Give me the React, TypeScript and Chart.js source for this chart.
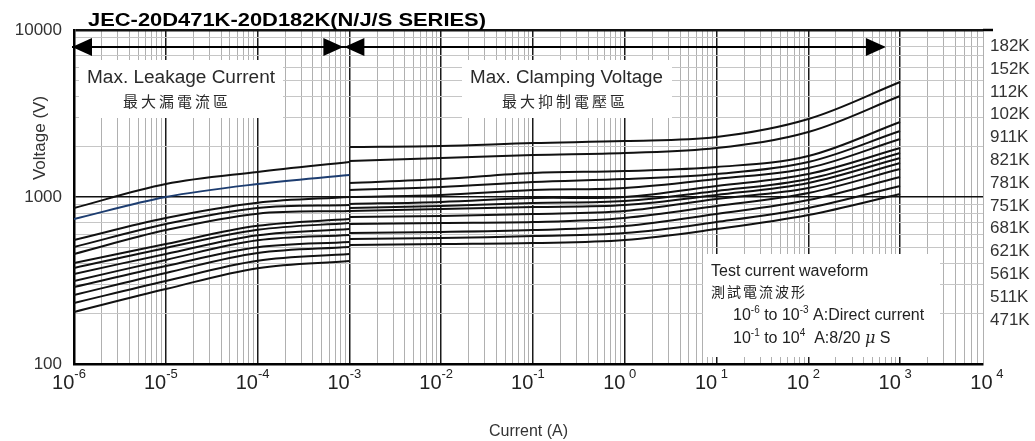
import React, { useEffect, useRef } from 'react';
import { Chart, registerables } from 'chart.js';

Chart.register(...registerables);

// ---------- text ----------
const chartTitle = 'JEC-20D471K-20D182K(N/J/S SERIES)';
const xAxisTitle = 'Current (A)';
const yAxisTitle = 'Voltage (V)';
const leakageTitle = 'Max. Leakage Current';
const leakageTitleZh = '最大漏電流區';
const clampingTitle = 'Max. Clamping Voltage';
const clampingTitleZh = '最大抑制電壓區';
const waveTitle = 'Test current waveform';
const waveTitleZh = '測試電流波形';

// ---------- axes ----------
const modelLabels = ['182K', '152K', '112K', '102K', '911K', '821K', '781K', '751K', '681K', '621K', '561K', '511K', '471K'];
const xDecadeExponents = [-6, -5, -4, -3, -2, -1, 0, 1, 2, 3, 4];
const yTickLabels = [100, 1000, 10000];
const xMin = 1e-6;
const xMax = 8000;
const yMin = 100;
const yMax = 10000;

// ---------- data: current (A) ----------
const leakageCurrent = [1e-6, 1e-5, 1e-4, 1e-3];
const clampingCurrent = [1e-3, 1e-2, 1e-1, 1, 10, 100, 1000];

// ---------- leakage region voltages (V) ----------
const leakage182K = [859, 1196, 1412, 1620];
const leakage152K = [738, 1000, 1196, 1354];
const leakage112K = [553, 749, 925, 1000];
const leakage102K = [502, 689, 860, 896];
const leakage911K = [456, 634, 795, 825];
const leakage821K = [403, 523, 672, 738];
const leakage781K = [376, 495, 636, 699];
const leakage751K = [346, 456, 590, 643];
const leakage681K = [314, 420, 550, 592];
const leakage621K = [289, 386, 500, 538];
const leakage561K = [259, 351, 462, 502];
const leakage511K = [232, 314, 415, 456];
const leakage471K = [205, 281, 375, 414];

// ---------- clamping region voltages (V) ----------
const clamping182K = [1993, 2020, 2106, 2164, 2287, 2931, 4882];
const clamping152K = [1643, 1712, 1785, 1835, 1965, 2450, 4025];
const clamping112K = [1213, 1282, 1392, 1431, 1512, 1760, 2813];
const clamping102K = [1101, 1148, 1230, 1282, 1373, 1620, 2484];
const clamping911K = [1000, 1028, 1101, 1132, 1282, 1492, 2225];
const clamping821K = [908, 934, 986, 1000, 1164, 1373, 1965];
const clamping781K = [859, 883, 921, 946, 1086, 1282, 1835];
const clamping751K = [825, 848, 871, 896, 1028, 1213, 1712];
const clamping681K = [759, 770, 791, 825, 973, 1132, 1598];
const clamping621K = [689, 699, 708, 749, 883, 1057, 1471];
const clamping561K = [608, 617, 634, 670, 791, 959, 1318];
const clamping511K = [560, 568, 584, 608, 708, 859, 1164];
const clamping471K = [516, 523, 530, 553, 643, 780, 1042];

const leakageSeries = [leakage182K, leakage152K, leakage112K, leakage102K, leakage911K, leakage821K, leakage781K, leakage751K, leakage681K, leakage621K, leakage561K, leakage511K, leakage471K];
const clampingSeries = [clamping182K, clamping152K, clamping112K, clamping102K, clamping911K, clamping821K, clamping781K, clamping751K, clamping681K, clamping621K, clamping561K, clamping511K, clamping471K];

const SANS = '"Liberation Sans", Arial, Helvetica, sans-serif';
const CJK = '"Noto Sans CJK TC", "Noto Sans CJK SC", sans-serif';

function isDecade(v: number) {
  const l = Math.log10(v);
  return Math.abs(l - Math.round(l)) < 1e-9;
}

function drawRuns(ctx: CanvasRenderingContext2D, runs: [string, string, number][], x: number, y: number) {
  let cx = x;
  for (const [text, font, dy] of runs) {
    ctx.font = font;
    ctx.fillText(text, cx, y + dy);
    cx += ctx.measureText(text).width;
  }
}

function drawArrowHead(ctx: CanvasRenderingContext2D, tipX: number, y: number, dir: number) {
  const len = 20;
  const half = 9;
  ctx.beginPath();
  ctx.moveTo(tipX, y);
  ctx.lineTo(tipX - dir * len, y - half);
  ctx.lineTo(tipX - dir * len, y + half);
  ctx.closePath();
  ctx.fill();
}

const overlayPlugin = {
  id: 'overlay',
  beforeDatasetsDraw(chart: any) {
    const ctx: CanvasRenderingContext2D = chart.ctx;
    const a = chart.chartArea;
    ctx.save();
    ctx.fillStyle = '#ffffff';
    ctx.fillRect(a.left + 5, a.top + 30, 204, 58);
    ctx.fillRect(a.left + 388, a.top + 30, 210, 58);
    ctx.fillRect(a.left + 629, a.top + 224, 237, 103);
    ctx.restore();
  },
  afterDraw(chart: any) {
    const ctx: CanvasRenderingContext2D = chart.ctx;
    const a = chart.chartArea;
    const xs = chart.scales.x;
    ctx.save();
    ctx.textBaseline = 'alphabetic';
    ctx.textAlign = 'left';

    // title (slightly stretched like the reference)
    ctx.fillStyle = '#000';
    ctx.font = `bold 19px ${SANS}`;
    const tw = ctx.measureText(chartTitle).width;
    ctx.save();
    ctx.translate(a.left + 14, a.top - 4);
    ctx.scale(398 / tw, 1);
    ctx.fillText(chartTitle, 0, 0);
    ctx.restore();

    // top frame line extends slightly past the plot
    ctx.strokeStyle = '#000';
    ctx.lineWidth = 2.5;
    ctx.beginPath();
    ctx.moveTo(a.right, a.top);
    ctx.lineTo(a.right + 10, a.top);
    ctx.stroke();

    // arrows
    const ay = a.top + 17;
    const x0 = xs.getPixelForValue(1e-6) - 2;
    const x1 = xs.getPixelForValue(1e-3) - 6;
    const x2 = xs.getPixelForValue(1e-3) - 5;
    const x3 = xs.getPixelForValue(700);
    ctx.fillStyle = '#000';
    ctx.lineWidth = 2;
    ctx.beginPath();
    ctx.moveTo(x0, ay);
    ctx.lineTo(x3 - 4, ay);
    ctx.stroke();
    drawArrowHead(ctx, x0, ay, -1);
    drawArrowHead(ctx, x1, ay, 1);
    drawArrowHead(ctx, x2, ay, -1);
    drawArrowHead(ctx, x3, ay, 1);

    // region labels
    ctx.fillStyle = '#2a2a2a';
    ctx.font = `18px ${SANS}`;
    let w = ctx.measureText(leakageTitle).width;
    ctx.save();
    ctx.translate(a.left + 13, a.top + 53);
    ctx.scale(188 / w, 1);
    ctx.fillText(leakageTitle, 0, 0);
    ctx.restore();
    w = ctx.measureText(clampingTitle).width;
    ctx.save();
    ctx.translate(a.left + 396, a.top + 53);
    ctx.scale(193 / w, 1);
    ctx.fillText(clampingTitle, 0, 0);
    ctx.restore();

    ctx.font = `15px ${CJK}`;
    (ctx as any).letterSpacing = '3px';
    ctx.textBaseline = 'middle';
    ctx.fillText(leakageTitleZh, a.left + 49, a.top + 71);
    ctx.fillText(clampingTitleZh, a.left + 428, a.top + 71);

    // test waveform box
    (ctx as any).letterSpacing = '0px';
    ctx.textBaseline = 'alphabetic';
    ctx.fillStyle = '#222';
    ctx.font = `16px ${SANS}`;
    ctx.fillText(waveTitle, a.left + 637, a.top + 246);
    ctx.font = `14px ${CJK}`;
    (ctx as any).letterSpacing = '2px';
    ctx.textBaseline = 'middle';
    ctx.fillText(waveTitleZh, a.left + 637, a.top + 262);
    (ctx as any).letterSpacing = '0px';
    ctx.textBaseline = 'alphabetic';
    const big = `16px ${SANS}`;
    const sup = `10px ${SANS}`;
    drawRuns(ctx, [['10', big, 0], ['-6', sup, -7], [' to 10', big, 0], ['-3', sup, -7], [' A:Direct current', big, 0]], a.left + 659, a.top + 290);
    drawRuns(ctx, [['10', big, 0], ['-1', sup, -7], [' to 10', big, 0], ['4', sup, -7], ['  A:8/20 ', big, 0], ['\u03bc', `italic 16px "DejaVu Serif", serif`, 0], [' S', big, 0]], a.left + 659, a.top + 313);

    // y axis title
    ctx.save();
    ctx.fillStyle = '#333';
    ctx.font = `17px ${SANS}`;
    ctx.textAlign = 'center';
    ctx.textBaseline = 'middle';
    ctx.translate(40, a.top + 108);
    ctx.rotate(-Math.PI / 2);
    ctx.fillText(yAxisTitle, 0, 0);
    ctx.restore();

    // x decade labels with superscript exponents
    ctx.fillStyle = '#222';
    for (const e of xDecadeExponents) {
      const px = xs.getPixelForValue(Math.pow(10, e));
      const base = '10';
      const ex = (e >= 0 ? ' ' : '') + String(e);
      ctx.font = `20px ${SANS}`;
      const wb = ctx.measureText(base).width;
      ctx.font = `13px ${SANS}`;
      const we = ctx.measureText(ex).width;
      const start = px - (wb + we) / 2 - 5;
      ctx.font = `20px ${SANS}`;
      ctx.fillText(base, start, a.bottom + 25);
      ctx.font = `13px ${SANS}`;
      ctx.fillText(ex, start + wb, a.bottom + 14);
    }
    ctx.restore();
  },
};

export default function App() {
  const ref = useRef<HTMLCanvasElement>(null);
  useEffect(() => {
    document.body.style.margin = '0';
    const datasets: any[] = [];
    leakageSeries.forEach((vals, i) => {
      datasets.push({
        label: `${modelLabels[i]} leakage`,
        data: leakageCurrent.map((c, j) => ({ x: c, y: vals[j] })),
        borderColor: i === 1 ? '#1d3d70' : '#111111',
        borderWidth: 2,
        pointRadius: 0,
        fill: false,
        tension: 0.35,
      });
    });
    clampingSeries.forEach((vals, i) => {
      datasets.push({
        label: `${modelLabels[i]} clamping`,
        data: clampingCurrent.map((c, j) => ({ x: c, y: vals[j] })),
        borderColor: '#111111',
        borderWidth: 2,
        pointRadius: 0,
        fill: false,
        tension: 0.35,
      });
    });

    const chart = new Chart(ref.current as HTMLCanvasElement, {
      type: 'line',
      data: { datasets },
      plugins: [overlayPlugin],
      options: {
        animation: false,
        responsive: false,
        devicePixelRatio: 1,
        layout: { padding: { top: 30, left: 0, right: 0, bottom: 0 } },
        plugins: { legend: { display: false }, tooltip: { enabled: false }, title: { display: false } },
        scales: {
          x: {
            type: 'logarithmic',
            position: 'bottom',
            min: xMin,
            max: xMax,
            afterBuildTicks: (scale: any) => {
              const t: any[] = [];
              for (let k = -6; k <= 3; k++) {
                for (let n = 1; n <= 9; n++) {
                  const v = n * Math.pow(10, k);
                  if (v <= xMax * 1.0001) t.push({ value: v });
                }
              }
              scale.ticks = t;
            },
            afterFit: (scale: any) => { scale.height = 77; },
            ticks: { display: false },
            grid: {
              drawTicks: false,
              color: (c: any) => (isDecade(c.tick.value) ? '#1a1a1a' : '#b0b0b0'),
              lineWidth: (c: any) => (isDecade(c.tick.value) ? 1.5 : 1),
            },
            border: { display: true, color: '#000', width: 2.5 },
            title: { display: true, text: xAxisTitle, color: '#333', font: { size: 16, family: SANS }, padding: { top: 0, bottom: 0 } },
          },
          y: {
            type: 'logarithmic',
            position: 'left',
            min: yMin,
            max: yMax,
            afterBuildTicks: (scale: any) => {
              const t: any[] = [];
              for (let k = 2; k <= 3; k++) {
                for (let n = 1; n <= 9; n++) t.push({ value: n * Math.pow(10, k) });
              }
              t.push({ value: 10000 });
              scale.ticks = t;
            },
            afterFit: (scale: any) => { scale.width = 74; },
            ticks: {
              autoSkip: false,
              padding: 12,
              color: '#333',
              font: { size: 17, family: SANS },
              callback: (v: any) => (yTickLabels.includes(Number(v)) ? String(v) : ''),
            },
            grid: {
              drawTicks: false,
              color: (c: any) => (isDecade(c.tick.value) ? '#111111' : '#c6c6c6'),
              lineWidth: (c: any) => (c.tick.value === 10000 ? 2.5 : isDecade(c.tick.value) ? 1.5 : 1),
            },
            border: { display: true, color: '#000', width: 2.5 },
          },
          models: {
            type: 'linear',
            position: 'right',
            display: true,
            min: -0.93,
            max: 13.71,
            afterBuildTicks: (scale: any) => {
              scale.ticks = modelLabels.map((_, i) => ({ value: modelLabels.length - i }));
            },
            afterFit: (scale: any) => { scale.width = 52; },
            ticks: {
              autoSkip: false,
              padding: 7,
              color: '#333',
              font: { size: 17, family: SANS },
              callback: (v: any) => modelLabels[modelLabels.length - Number(v)] ?? '',
            },
            grid: { display: false, drawTicks: false },
            border: { display: false },
          },
        },
      } as any,
    });
    return () => chart.destroy();
  }, []);
  return (
    <div style={{ width: 1035, height: 441 }}>
      <canvas ref={ref} width={1035} height={441} style={{ display: 'block' }} />
    </div>
  );
}
